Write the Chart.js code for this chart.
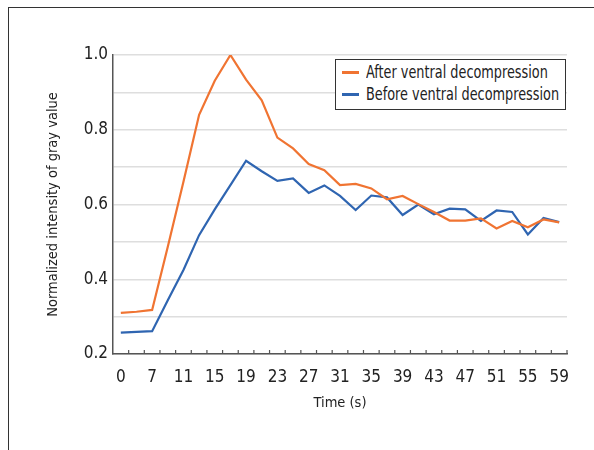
<!DOCTYPE html>
<html>
<head>
<meta charset="utf-8">
<script src="https://cdn.jsdelivr.net/npm/chart.js@4.4.1/dist/chart.umd.min.js"></script>
<style>
  html, body { margin: 0; padding: 0; background: #fff; }
  #wrap { position: relative; width: 594px; height: 450px; overflow: hidden; }
  #frame {
    position: absolute; left: 8px; top: 7px; right: -4px; bottom: -4px;
    border-left: 1.5px solid #333; border-top: 1.5px solid #333;
  }
  canvas { position: absolute; left: 0; top: 0; }
  #legend {
    position: absolute; left: 335px; top: 59px; width: 229px; height: 47px;
    border: 1.5px solid #333; background: #fff; padding-top: 2px; box-sizing: content-box;
    font-family: 'Liberation Sans Narrow', 'DejaVu Sans Condensed', 'Noto Sans', sans-serif;
    font-size: 17px; color: #222;
  }
  .item { height: 21.7px; line-height: 21.7px; white-space: nowrap; display: flex; align-items: center; }
  .swatch { flex: 0 0 17px; height: 3px; margin-left: 6px; margin-right: 7px; }
  .txt { display: inline-block; transform: scaleX(0.84); transform-origin: left center; }
</style>
</head>
<body>
<div id="wrap">
  <div id="frame"></div>
  <canvas id="chart" width="594" height="450"></canvas>
  <div id="legend"></div>
</div>
<script>
// time points (s); every other label is shown on the axis
const timeLabels = ['0', '3', '7', '9', '11', '13', '15', '17', '19', '21', '23', '25', '27', '29',
  '31', '33', '35', '37', '39', '41', '43', '45', '47', '49', '51', '53', '55', '57', '59'];

const afterValues = [0.310, 0.313, 0.318, 0.487, 0.661, 0.840, 0.931, 1.000, 0.934, 0.879,
  0.779, 0.750, 0.708, 0.692, 0.652, 0.655, 0.643, 0.614, 0.623, 0.601,
  0.580, 0.557, 0.557, 0.563, 0.536, 0.556, 0.539, 0.560, 0.552];

const beforeValues = [0.257, 0.259, 0.261, 0.344, 0.425, 0.518, 0.587, 0.652, 0.717, 0.689,
  0.663, 0.670, 0.631, 0.651, 0.623, 0.585, 0.624, 0.619, 0.572, 0.600,
  0.574, 0.589, 0.587, 0.556, 0.584, 0.580, 0.520, 0.564, 0.553];

const seriesNames = ['After ventral decompression', 'Before ventral decompression'];
const seriesColors = ['#f07432', '#2f65b1'];

const FONT = "'Liberation Sans Narrow', 'DejaVu Sans Condensed', 'Noto Sans', sans-serif";

// short tick marks pointing into the plot
const innerTicks = {
  id: 'innerTicks',
  afterDatasetsDraw(chart) {
    const ctx = chart.ctx;
    const x = chart.scales.x, y = chart.scales.y;
    ctx.save();
    ctx.strokeStyle = '#555';
    ctx.lineWidth = 1.2;
    ctx.beginPath();
    for (let i = 0; i < timeLabels.length; i++) {
      const px = (x.getPixelForValue(i) + x.getPixelForValue(i + 1)) / 2;
      ctx.moveTo(px, y.bottom);
      ctx.lineTo(px, y.bottom - 4);
    }
    ctx.stroke();
    ctx.restore();
  }
};

const chart = new Chart(document.getElementById('chart'), {
  type: 'line',
  data: {
    labels: timeLabels,
    datasets: [
      { label: seriesNames[0], data: afterValues, borderColor: seriesColors[0], backgroundColor: seriesColors[0] },
      { label: seriesNames[1], data: beforeValues, borderColor: seriesColors[1], backgroundColor: seriesColors[1] }
    ]
  },
  options: {
    responsive: false,
    animation: false,
    layout: { padding: { left: 45, top: 55, right: 27, bottom: 38 } },
    elements: {
      line: { borderWidth: 2.2, tension: 0 },
      point: { radius: 0 }
    },
    plugins: { legend: { display: false }, tooltip: { enabled: false } },
    scales: {
      x: {
        type: 'category',
        offset: true,
        afterFit: s => { s.height = 58; },
        grid: { display: false },
        border: { display: true, color: '#555', width: 1.5 },
        ticks: {
          autoSkip: false, maxRotation: 0, padding: 5,
          color: '#222', font: { family: FONT, size: 17 },
          callback: (v, i) => (i % 2 === 0 ? timeLabels[i] : '')
        },
        title: { display: true, text: 'Time (s)', color: '#222', padding: 0, font: { family: FONT, size: 14.5 } }
      },
      y: {
        min: 0.2, max: 1.0,
        afterFit: s => { s.width = 68; },
        grid: { color: '#dedede', lineWidth: 1.5, drawTicks: false },
        border: { display: true, color: '#555', width: 1.5 },
        ticks: {
          stepSize: 0.1, padding: 5, color: '#222', font: { family: FONT, size: 17 },
          callback: v => (Math.round(v * 10) % 2 === 0 ? v.toFixed(1) : '')
        },
        title: { display: true, text: 'Normalized intensity of gray value', color: '#222', padding: 0, font: { family: FONT, size: 14.5 } }
      }
    }
  },
  plugins: [innerTicks]
});

// legend box in the top right of the plot
const legend = document.getElementById('legend');
chart.data.datasets.forEach(ds => {
  const row = document.createElement('div');
  row.className = 'item';
  const sw = document.createElement('span');
  sw.className = 'swatch';
  sw.style.background = ds.borderColor;
  const txt = document.createElement('span');
  txt.className = 'txt';
  txt.textContent = ds.label;
  row.appendChild(sw);
  row.appendChild(txt);
  legend.appendChild(row);
});
</script>
</body>
</html>
